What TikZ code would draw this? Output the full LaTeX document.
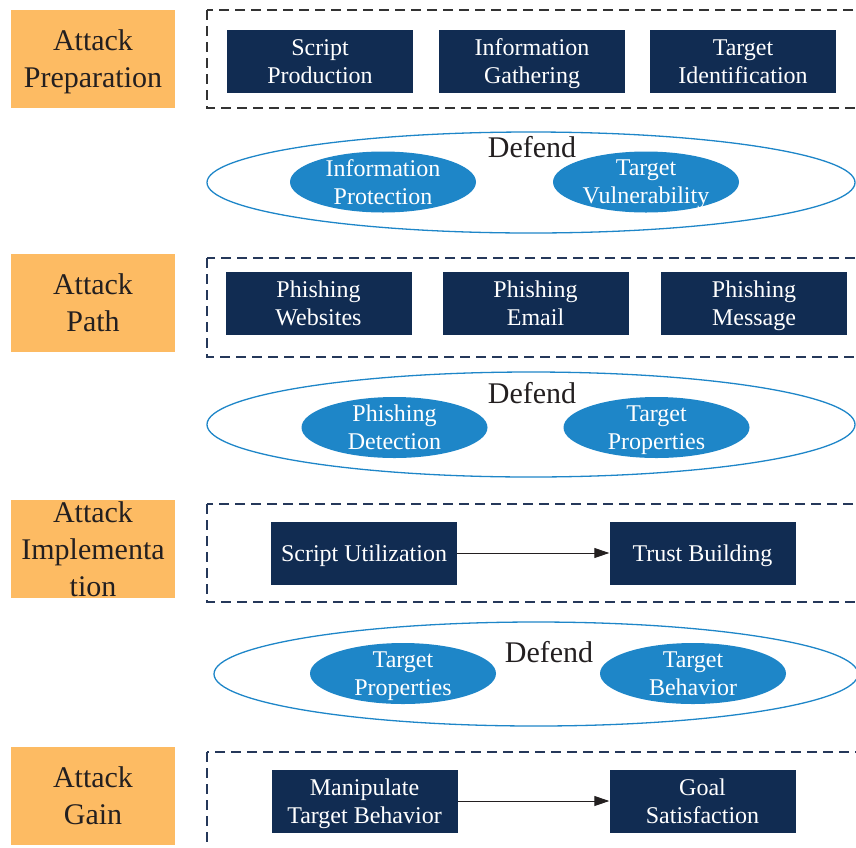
\documentclass[tikz,border=0pt]{standalone}
\usepackage{fontspec}
\setmainfont{LiberationSerif}[Extension=.ttf, UprightFont=*-Regular, BoldFont=*-Bold]
\newfontfamily\tnr{LiberationSerif}[Extension=.ttf, UprightFont=*-Regular, BoldFont=*-Bold]
\usetikzlibrary{shapes.geometric,arrows.meta}
\definecolor{orangebg}{HTML}{FDBB63}
\definecolor{navy}{HTML}{112C52}
\definecolor{defblue}{HTML}{1E86C8}
\definecolor{textdark}{HTML}{231F20}
\definecolor{grpdark}{HTML}{333333}
\definecolor{grpnavy}{HTML}{25385A}
\begin{document}
\begin{tikzpicture}[x=1pt,y=-1pt,
  phase/.style={fill=orangebg, minimum width=164pt, minimum height=98pt, inner sep=0pt,
    align=center, font=\tnr\fontsize{30}{37}\selectfont, text=textdark, text depth=0pt},
  actbox/.style={fill=navy, text=white, minimum width=186pt, minimum height=63pt, inner sep=0pt,
    align=center, font=\tnr\fontsize{24}{28}\selectfont, text depth=0pt},
  defshape/.style={ellipse, fill=defblue, minimum width=186pt, minimum height=61pt, inner sep=0pt},
  deftext/.style={text=white, align=center, inner sep=0pt, font=\tnr\fontsize{24}{28}\selectfont, text depth=0pt},
  outerell/.style={ellipse, draw=defblue, line width=1.3pt, inner sep=0pt},
  grp/.style={dash pattern=on 10pt off 6pt, line width=1.3pt},
  deflabel/.style={font=\tnr\fontsize{30}{36}\selectfont, text=textdark, inner sep=0pt, anchor=base},
  flow/.style={-{Triangle[length=15pt,width=10pt]}, line width=1pt, draw=textdark}
]
\useasboundingbox (0,0) rectangle (856,847);

% phase labels
\node[phase] (ph1) at (93,59) {Attack\\Preparation};
\node[phase] (ph2) at (93,303) {Attack\\Path};
\node[phase] (ph3) at (93,549) {Attack\\Implementa\\tion};
\node[phase] (ph4) at (93,796) {Attack\\Gain};

% dashed groups
\draw[grp, draw=grpdark] (207,10) rectangle (872,108);
\draw[grp, draw=grpnavy] (207,258) rectangle (872,357);
\draw[grp, draw=grpnavy] (207,504) rectangle (872,602);
\draw[grp, draw=grpnavy] (207,752) rectangle (872,880);

% row 1
\node[actbox] (sp) at (320,61.5) {Script\\Production};
\node[actbox] (ig) at (532,61.5) {Information\\Gathering};
\node[actbox] (ti) at (743,61.5) {Target\\Identification};

% defend 1
\node[outerell, minimum width=648pt, minimum height=101pt] (d1) at (531,182.5) {};
\node[deflabel] (d1l) at (532,157) {Defend};
\node[defshape] (ip) at (383,182) {};
\node[deftext] at (ip) {Information\\Protection};
\node[defshape] (tv) at (646,182) {};
\node[deftext] at (tv) {Target\\Vulnerability};

% row 2
\node[actbox] (pw) at (318.5,303.5) {Phishing\\Websites};
\node[actbox] (pe) at (535.5,303.5) {Phishing\\Email};
\node[actbox] (pm) at (754,303.5) {Phishing\\Message};

% defend 2
\node[outerell, minimum width=648pt, minimum height=105pt] (d2) at (531,424.5) {};
\node[deflabel] (d2l) at (532,403) {Defend};
\node[defshape] (pd) at (394.5,427.5) {};
\node[deftext] at (pd) {Phishing\\Detection};
\node[defshape] (tp) at (656.5,427.5) {};
\node[deftext] at (tp) {Target\\Properties};

% row 3
\node[actbox] (su) at (364,553) {Script Utilization};
\node[actbox] (tb) at (702.5,553) {Trust Building};
\draw[flow] (su) -- (tb);

% defend 3
\node[outerell, minimum width=644pt, minimum height=104pt] (d3) at (536,674) {};
\node[deflabel] (d3l) at (549,662) {Defend};
\node[defshape] (tp2) at (403,673.5) {};
\node[deftext] at (tp2) {Target\\Properties};
\node[defshape] (tbh) at (693,673.5) {};
\node[deftext] at (tbh) {Target\\Behavior};

% row 4
\node[actbox] (mt) at (364.5,801) {Manipulate\\Target Behavior};
\node[actbox] (gs) at (702.5,801) {Goal\\Satisfaction};
\draw[flow] (mt) -- (gs);
\end{tikzpicture}
\end{document}
